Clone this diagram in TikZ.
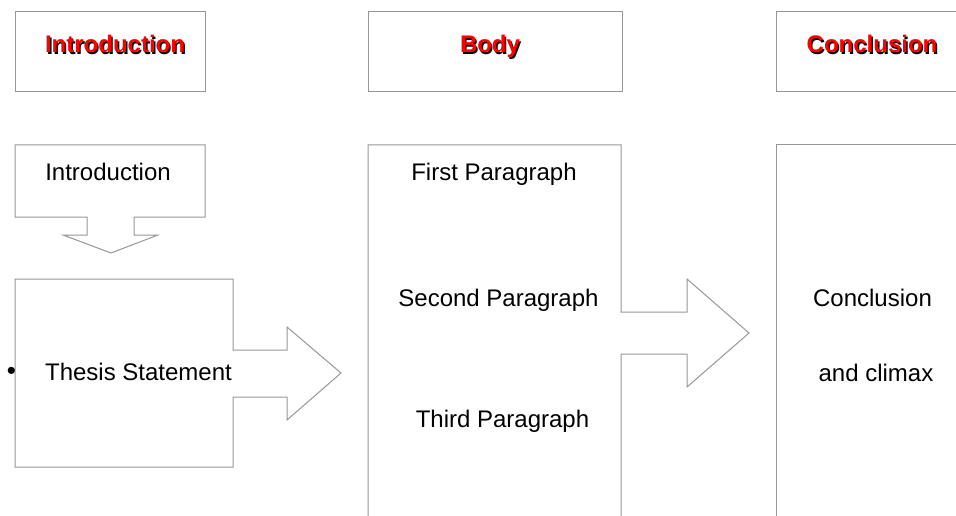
\documentclass[tikz,border=0pt]{standalone}
\usepackage{fontspec}
\setmainfont{Liberation Sans}
\usepackage{tikz}
\usetikzlibrary{positioning}

\definecolor{boxgray}{RGB}{150,150,150}
\definecolor{titlered}{RGB}{255,0,0}

\tikzset{
	outline/.style={draw=boxgray, line width=1pt, line join=miter},
	label/.style={anchor=base, font=\fontsize{24}{28}\selectfont, inner sep=0pt},
	titleshadow/.style={anchor=base, font=\fontsize{24}{28}\selectfont\bfseries, inner sep=0pt, text=black},
	titletext/.style={anchor=base, font=\fontsize{24}{28}\selectfont\bfseries, inner sep=0pt, text=titlered}
}

\begin{document}
\begin{tikzpicture}[x=1pt, y=-1pt]
		\useasboundingbox (0,0) rectangle (956,516);
		\clip (0,0) rectangle (956,516);

		% heading boxes
		\draw[outline] (15,12) rectangle (205,92);
		\draw[outline] (368,12) rectangle (622,92);
		\draw[outline] (960,12) -- (776,12) -- (776,92) -- (960,92);

		\node[titleshadow] (t1s) at (116.5,54.5) {Introduction};
		\node[titletext] (t1) at (115,53) {Introduction};
		\node[titleshadow] (t2s) at (491.5,54.5) {Body};
		\node[titletext] (t2) at (490,53) {Body};
		\node[titleshadow] (t3s) at (873.5,54.5) {Conclusion};
		\node[titletext] (t3) at (872,53) {Conclusion};

		% introduction with down arrow
		\draw[outline] (15,145) -- (205,145) -- (205,217) -- (134,217) -- (134,235)
			-- (158,235) -- (111,253) -- (63,235) -- (87,235) -- (87,217) -- (15,217) -- cycle;
		\node[label] (intro) at (108,180.5) {Introduction};

		% thesis with right arrow
		\draw[outline] (15,279) -- (233,279) -- (233,350) -- (287,350) -- (287,327)
			-- (341,373) -- (287,420) -- (287,397) -- (233,397) -- (233,467) -- (15,467) -- cycle;
		\node[label] (thesis) at (138.5,380) {Thesis Statement};
		\node[anchor=center, inner sep=0pt, font=\fontsize{26}{28}\selectfont] (dot) at (11.5,373) {•};

		% body with right arrow
		\draw[outline] (368,530) -- (368,145) -- (621,145) -- (621,312) -- (687,312) -- (687,279)
			-- (749,333) -- (687,387) -- (687,354) -- (621,354) -- (621,530);
		\node[label] (p1) at (494,180.5) {First Paragraph};
		\node[label] (p2) at (498.5,306.5) {Second Paragraph};
		\node[label] (p3) at (502.5,427.5) {Third Paragraph};

		% conclusion
		\draw[outline] (960,145) -- (776,145) -- (776,530);
		\node[label] (c1) at (872.5,306) {Conclusion};
		\node[label] (c2) at (876,381) {and climax};
	\end{tikzpicture}
\end{document}
